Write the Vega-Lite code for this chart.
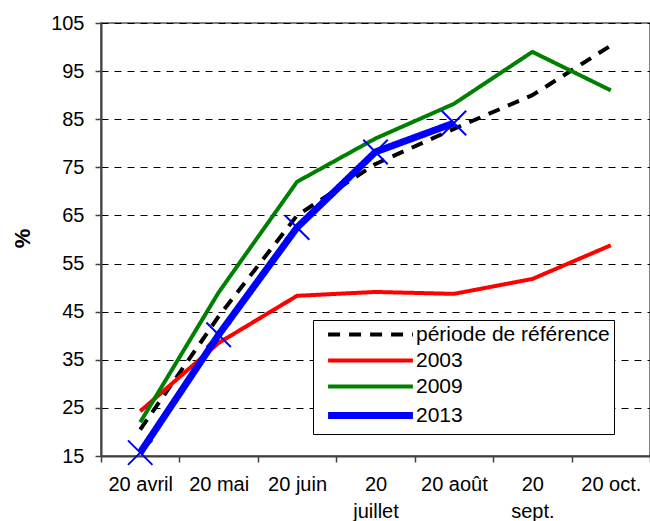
{
  "$schema": "https://vega.github.io/schema/vega-lite/v6.json",
  "width": 549,
  "height": 433,
  "autosize": "none",
  "padding": {"left": 101, "top": 23, "right": 0, "bottom": 65},
  "background": "white",
  "config": {
    "font": "Liberation Sans",
    "view": {"stroke": "#808080", "strokeWidth": 2}
  },
  "data": {
    "values": [
      {"date": "20 avril", "series": "période de référence", "value": 20.5},
      {"date": "20 mai", "series": "période de référence", "value": 44},
      {"date": "20 juin", "series": "période de référence", "value": 65},
      {"date": "20 juillet", "series": "période de référence", "value": 75.7},
      {"date": "20 août", "series": "période de référence", "value": 83},
      {"date": "20 sept.", "series": "période de référence", "value": 90},
      {"date": "20 oct.", "series": "période de référence", "value": 100.3},
      {"date": "20 avril", "series": "2003", "value": 24.3},
      {"date": "20 mai", "series": "2003", "value": 38.5},
      {"date": "20 juin", "series": "2003", "value": 48.3},
      {"date": "20 juillet", "series": "2003", "value": 49.1},
      {"date": "20 août", "series": "2003", "value": 48.7},
      {"date": "20 sept.", "series": "2003", "value": 51.8},
      {"date": "20 oct.", "series": "2003", "value": 58.8},
      {"date": "20 avril", "series": "2009", "value": 22},
      {"date": "20 mai", "series": "2009", "value": 49},
      {"date": "20 juin", "series": "2009", "value": 72},
      {"date": "20 juillet", "series": "2009", "value": 81},
      {"date": "20 août", "series": "2009", "value": 88.2},
      {"date": "20 sept.", "series": "2009", "value": 99},
      {"date": "20 oct.", "series": "2009", "value": 91},
      {"date": "20 avril", "series": "2013", "value": 15.7},
      {"date": "20 mai", "series": "2013", "value": 40.2},
      {"date": "20 juin", "series": "2013", "value": 62.5},
      {"date": "20 juillet", "series": "2013", "value": 78.2},
      {"date": "20 août", "series": "2013", "value": 84.2}
    ]
  },
  "encoding": {
    "x": {
      "field": "date",
      "type": "nominal",
      "sort": ["20 avril", "20 mai", "20 juin", "20 juillet", "20 août", "20 sept.", "20 oct."],
      "scale": {"type": "band", "paddingInner": 0, "paddingOuter": 0},
      "bandPosition": 0.5,
      "axis": {
        "title": null,
        "tickBand": "extent",
        "labelAngle": 0,
        "labelFontSize": 20,
        "labelColor": "black",
        "labelPadding": 12,
        "labelLineHeight": 27,
        "labelBaseline": "top",
        "labelExpr": "datum.value == '20 juillet' ? ['20', 'juillet'] : datum.value == '20 sept.' ? ['20', 'sept.'] : datum.label",
        "domainColor": "#404040",
        "domainWidth": 2,
        "tickColor": "#404040",
        "tickWidth": 1.5,
        "tickSize": 6,
        "grid": false
      }
    },
    "y": {
      "field": "value",
      "type": "quantitative",
      "scale": {"domain": [15, 105], "nice": false, "zero": false},
      "axis": {
        "title": "%",
        "titleFontSize": 22,
        "titleFontWeight": "bold",
        "titleColor": "black",
        "titleAngle": -90,
        "titleX": -79,
        "titleY": 215,
        "titleAlign": "center",
        "titleBaseline": "middle",
        "values": [15, 25, 35, 45, 55, 65, 75, 85, 95, 105],
        "labelFontSize": 20,
        "labelColor": "black",
        "labelPadding": 11,
        "domainColor": "#404040",
        "domainWidth": 2,
        "tickColor": "#404040",
        "tickWidth": 1.5,
        "tickSize": 6,
        "grid": true,
        "gridColor": "black",
        "gridWidth": 1,
        "gridDash": [7, 6]
      }
    }
  },
  "layer": [
    {
      "mark": {"type": "line", "strokeCap": "butt", "strokeJoin": "round"},
      "encoding": {
        "color": {
          "field": "series",
          "type": "nominal",
          "scale": {
            "domain": ["période de référence", "2003", "2009", "2013"],
            "range": ["black", "#ff0000", "#008000", "#0000ff"]
          },
          "legend": {
            "orient": "none",
            "legendX": 212,
            "legendY": 297,
            "title": null,
            "strokeColor": "black",
            "fillColor": "white",
            "padding": 4,
            "labelFontSize": 21,
            "labelColor": "black",
            "labelLimit": 400,
            "labelOffset": 35,
            "labelExpr": "datum.label + '\u00a0\u00a0\u00a0\u00a0'",
            "symbolType": "M-4,0H4",
            "symbolSize": 450,
            "symbolOffset": 43,
            "symbolStrokeWidth": 4,
            "rowPadding": 4,
            "encode": {
              "symbols": {
                "update": {
                  "strokeWidth": {"signal": "datum.label == '2013' ? 7 : 4"}
                }
              }
            }
          }
        },
        "strokeDash": {
          "field": "series",
          "type": "nominal",
          "scale": {
            "domain": ["période de référence", "2003", "2009", "2013"],
            "range": [[12, 9], [1, 0], [1, 0], [1, 0]]
          },
          "legend": null
        },
        "strokeWidth": {
          "condition": {"test": "datum.series == '2013'", "value": 7},
          "value": 4
        }
      }
    },
    {
      "transform": [{"filter": "datum.series == '2013'"}],
      "mark": {
        "type": "point",
        "shape": "M-1,-1L1,1M-1,1L1,-1",
        "filled": false,
        "color": "#0000ff",
        "strokeWidth": 2,
        "size": 600,
        "opacity": 1
      }
    }
  ]
}
